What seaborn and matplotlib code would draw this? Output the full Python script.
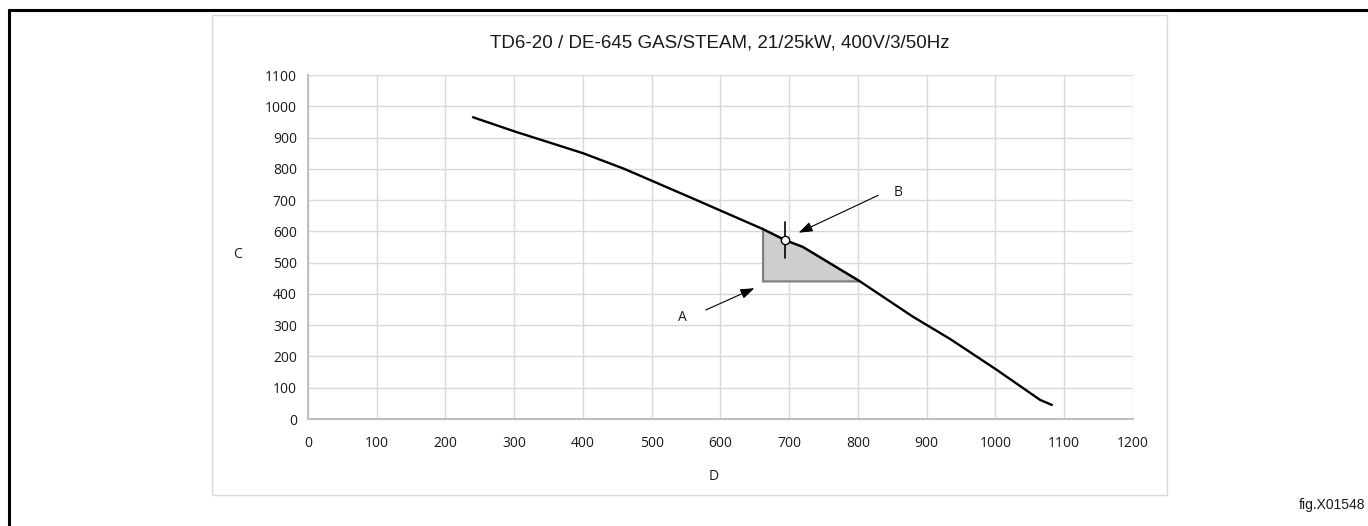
import numpy as np
import pandas as pd
import matplotlib
matplotlib.use("Agg")
import matplotlib.pyplot as plt
import seaborn as sns
from matplotlib.patches import Rectangle
from matplotlib.lines import Line2D

# curve data
flow_x = [240, 300, 400, 460, 560, 662, 694, 720, 803, 880, 934, 1002, 1065, 1082]
press_y = [965, 920, 850, 800, 705, 607, 572, 550, 440, 327, 256, 157, 61, 45]

# shaded working area
shade_x = [662, 662, 803, 720, 694, 662]
shade_y = [607, 440, 440, 550, 572, 607]

# point B and its marker cross
point_b = (694, 572)
cross_y = [515, 630]

x_ticks = list(range(0, 1201, 100))
y_ticks = list(range(0, 1101, 100))

title = "TD6-20 / DE-645 GAS/STEAM, 21/25kW, 400V/3/50Hz"

sns.set_theme(style="whitegrid")
plt.rcParams['font.family'] = ['Open Sans', 'DejaVu Sans']

fig = plt.figure(figsize=(13.68, 5.26), dpi=100)
ax = fig.add_axes([0.2251, 0.2034, 0.6031, 0.654])

ax.set_xlim(0, 1200)
ax.set_ylim(0, 1100)
ax.set_xticks(x_ticks)
ax.set_yticks(y_ticks)
ax.grid(True, color="#d9d9d9", linewidth=1.0)
ax.set_axisbelow(True)
for side in ["top", "right"]:
    ax.spines[side].set_visible(False)
for side in ["left", "bottom"]:
    ax.spines[side].set_color("#bfbfbf")
    ax.spines[side].set_linewidth(1.5)
ax.tick_params(axis="both", length=0, labelsize=10, colors="#1a1a1a")
ax.tick_params(axis="x", pad=12)
ax.tick_params(axis="y", pad=8)
ax.set_facecolor("white")

ax.fill(shade_x, shade_y, facecolor="#d0cece", edgecolor="#808080", linewidth=1.6, zorder=2)

df = pd.DataFrame({"x": flow_x, "y": press_y})
sns.lineplot(data=df, x="x", y="y", sort=False, color="black", linewidth=1.7, ax=ax, zorder=3)
ax.set_xlabel("")
ax.set_ylabel("")

ax.plot([point_b[0], point_b[0]], cross_y, color="black", linewidth=1.2, zorder=4)
ax.plot([point_b[0]], [point_b[1]], marker="o", markersize=6, markerfacecolor="white",
        markeredgecolor="black", markeredgewidth=1.0, zorder=5)

arrow = dict(arrowstyle="-|>,head_length=0.7,head_width=0.25", color="black", lw=0.8)
ax.annotate("", xy=(710, 592), xytext=(833, 719), arrowprops=arrow, zorder=6)
ax.annotate("", xy=(653, 422), xytext=(575, 345), arrowprops=arrow, zorder=6)
ax.text(858, 723, "B", fontsize=10, ha="center", va="center", color="#1a1a1a")
ax.text(545, 326, "A", fontsize=10, ha="center", va="center", color="#1a1a1a")

fig.text(237 / 1368, 1 - 254 / 526, "C", fontsize=10, ha="center", va="center", color="#1a1a1a")
fig.text(714 / 1368, 1 - 476 / 526, "D", fontsize=10, ha="center", va="center", color="#1a1a1a")
fig.text(720 / 1368, 1 - 43 / 526, title, fontsize=13.5, ha="center", va="center",
         family="Liberation Sans", color="#1a1a1a")
fig.text(1365 / 1368, 1 - 505 / 526, "fig.X01548", fontsize=10, ha="right", va="center",
         family="Liberation Sans", color="#1a1a1a")

# chart frame and page border lines
fig.patches.append(Rectangle((212 / 1368, 1 - 495 / 526), (1167 - 212) / 1368, (495 - 15) / 526,
                             transform=fig.transFigure, fill=False, edgecolor="#d9d9d9", linewidth=1.0))
fig.lines.append(Line2D([8 / 1368, 1.0], [1 - 10 / 526, 1 - 10 / 526], transform=fig.transFigure,
                        color="black", linewidth=2.2, solid_capstyle="butt"))
fig.lines.append(Line2D([9 / 1368, 9 / 1368], [0, 1 - 9 / 526], transform=fig.transFigure,
                        color="black", linewidth=2.2, solid_capstyle="butt"))

fig.savefig("out.png", dpi=100, facecolor="white")
